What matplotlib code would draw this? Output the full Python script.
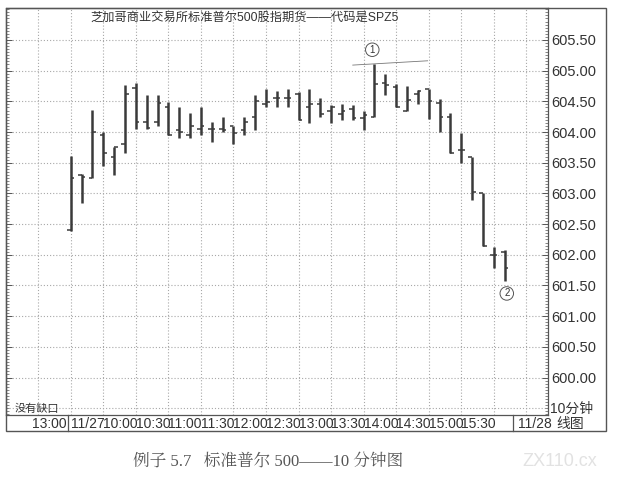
import matplotlib
matplotlib.use('Agg')
import matplotlib.pyplot as plt
import matplotlib.transforms as mtransforms
from matplotlib.patches import Rectangle
from matplotlib.ticker import MultipleLocator, FixedLocator
import numpy as np

plt.rcParams['font.family'] = ['Liberation Sans Narrow', 'Liberation Sans', 'Noto Sans CJK SC', 'DejaVu Sans']

# 10-minute bars, 11/27 session
opens = [602.40, 603.30, 603.25, 603.95, 603.60, 603.80, 604.71, 604.16, 604.16, 604.41,
         604.03, 603.95, 604.05, 604.05, 604.05, 604.09, 604.04, 604.25, 604.46, 604.55,
         604.56, 604.62, 604.40, 604.45, 604.35, 604.30, 604.38, 604.22, 604.25, 604.80,
         604.74, 604.35, 604.62, 604.70, 604.47, 604.25, 603.70, 603.60, 603.00, 602.00,
         602.04]
highs = [603.61, 603.31, 604.36, 604.00, 603.75, 604.76, 604.80, 604.60, 604.60, 604.49,
         604.40, 604.31, 604.40, 604.16, 604.25, 604.10, 604.25, 604.60, 604.70, 604.66,
         604.70, 604.65, 604.70, 604.55, 604.44, 604.46, 604.44, 604.34, 605.10, 604.95,
         604.79, 604.75, 604.69, 604.70, 604.54, 604.31, 603.99, 603.60, 603.00, 602.13,
         602.08]
lows = [602.38, 602.85, 603.25, 603.45, 603.30, 603.65, 604.05, 604.05, 604.10, 603.95,
        603.90, 603.90, 603.95, 603.84, 604.00, 603.80, 603.95, 604.03, 604.40, 604.40,
        604.41, 604.20, 604.15, 604.25, 604.14, 604.20, 604.20, 604.04, 604.25, 604.60,
        604.41, 604.35, 604.46, 604.21, 604.00, 603.65, 603.50, 602.89, 602.14, 601.78,
        601.58]
closes = [603.25, 603.26, 604.00, 603.65, 603.75, 604.62, 604.16, 604.07, 604.47, 603.95,
          604.00, 604.10, 604.10, 604.05, 604.03, 603.98, 604.17, 604.51, 604.49, 604.55,
          604.56, 604.20, 604.45, 604.30, 604.41, 604.34, 604.23, 604.28, 604.79, 604.76,
          604.41, 604.52, 604.66, 604.51, 604.25, 603.65, 603.70, 603.02, 602.14, 602.00,
          601.78]

time_labels = ['11/27', '10:00', '10:30', '11:00', '11:30', '12:00', '12:30',
               '13:00', '13:30', '14:00', '14:30', '15:00', '15:30']
time_pos = [0, 3, 6, 9, 12, 15, 18, 21, 24, 27, 30, 33, 36]

price_ticks = [600.0, 600.5, 601.0, 601.5, 602.0, 602.5, 603.0, 603.5,
               604.0, 604.5, 605.0, 605.5]

bar_col = '#3a3a3a'
grid_col = '#a8a8a8'
text_col = '#333333'

W, H = 618, 479
fig = plt.figure(figsize=(W / 100, H / 100), dpi=100)
ax = fig.add_axes([6 / W, (H - 415) / H, 542 / W, 407 / H])

x = np.arange(len(opens))

# dotted grid
for gy in np.arange(599.5, 605.51, 0.5):
    ax.axhline(gy, color=grid_col, lw=0.8, ls=(0, (1, 1.8)), zorder=1)
for gx in np.arange(-3, 43, 3):
    ax.axvline(gx, color=grid_col, lw=0.8, ls=(0, (1, 1.8)), zorder=1)

# OHLC bars
ax.vlines(x, lows, highs, color=bar_col, lw=1.8, zorder=3)
ax.hlines(opens, x - 0.33, x, color=bar_col, lw=1.1, zorder=3)
ax.hlines(closes, x, x + 0.33, color=bar_col, lw=1.1, zorder=3)

# thin line over the highs at point 1
ax.plot([26.0, 32.9], [605.09, 605.16], color='#777777', lw=0.6, zorder=2)

ax.set_xlim(-5.97, 44.0)
ax.set_ylim(599.39, 606.02)

ax.yaxis.tick_right()
ax.yaxis.set_major_locator(FixedLocator(price_ticks))
ax.yaxis.set_minor_locator(MultipleLocator(0.05))
ax.set_yticklabels(['%.2f' % p for p in price_ticks])
ax.tick_params(axis='y', which='both', left=True, right=True, labelleft=False,
               labelright=True, direction='in', colors='#555555', labelcolor=text_col,
               labelsize=10.5, pad=2)
ax.tick_params(axis='y', which='major', length=4, width=0.7)
ax.tick_params(axis='y', which='minor', length=2, width=0.5)

ax.set_xticks(time_pos)
ax.set_xticklabels(time_labels)
ax.tick_params(axis='x', length=0, labelsize=10, labelcolor=text_col, pad=1.5)
for lab in ax.get_xticklabels():
    lab.set_ha('left')

for s in ax.spines.values():
    s.set_color('#555555')
    s.set_linewidth(0.9)

trans = mtransforms.blended_transform_factory(ax.transData, ax.transAxes)
ax.text(-0.35, -0.021, '13:00', transform=trans, ha='right', va='center',
        fontsize=10, color=text_col)
ax.text(41.2, -0.021, '11/28', transform=trans, ha='left', va='center',
        fontsize=10, color=text_col)
for sx in [-0.25, 40.8]:
    ax.plot([sx, sx], [0, -16 / 407], transform=trans, color='#555555', lw=0.9,
            clip_on=False)

# title and notes inside the chart
ax.text(0.44, 0.975, '芝加哥商业交易所标准普尔500股指期货——代码是SPZ5',
        transform=ax.transAxes, ha='center', va='center', fontsize=8.8, color=text_col)
ax.text(0.015, 0.016, '没有缺口', transform=ax.transAxes, ha='left', va='center',
        fontsize=8, color=text_col)

# circled markers
circ = dict(boxstyle='circle,pad=0.18', fc='white', ec='#555555', lw=0.7)
ax.text(27.8, 605.34, '1', ha='center', va='center', fontsize=7, color=text_col,
        bbox=circ, zorder=4)
ax.text(40.2, 601.37, '2', ha='center', va='center', fontsize=7, color=text_col,
        bbox=circ, zorder=4)

# right column labels
fig.text(572 / W, (H - 409) / H, '10分钟', ha='center', va='center', fontsize=10,
         color=text_col)
fig.text(570 / W, (H - 424) / H, '线图', ha='center', va='center', fontsize=10,
         color=text_col)

# outer frame
fig.patches.append(Rectangle((6 / W, (H - 431) / H), 600 / W, 423 / H, fill=False,
                             ec='#555555', lw=1.0, transform=fig.transFigure))

# caption
fig.text(268 / W, (H - 462) / H, '例子 5.7   标准普尔 500——10 分钟图', ha='center',
         va='center', fontsize=12, color='#555555',
         family=['Liberation Serif', 'Noto Serif CJK SC', 'Noto Sans CJK SC'])
fig.text(560 / W, (H - 462) / H, 'ZX110.cx', ha='center', va='center', fontsize=13,
         color='#e2e2e2')

fig.savefig('out.png', dpi=100)
